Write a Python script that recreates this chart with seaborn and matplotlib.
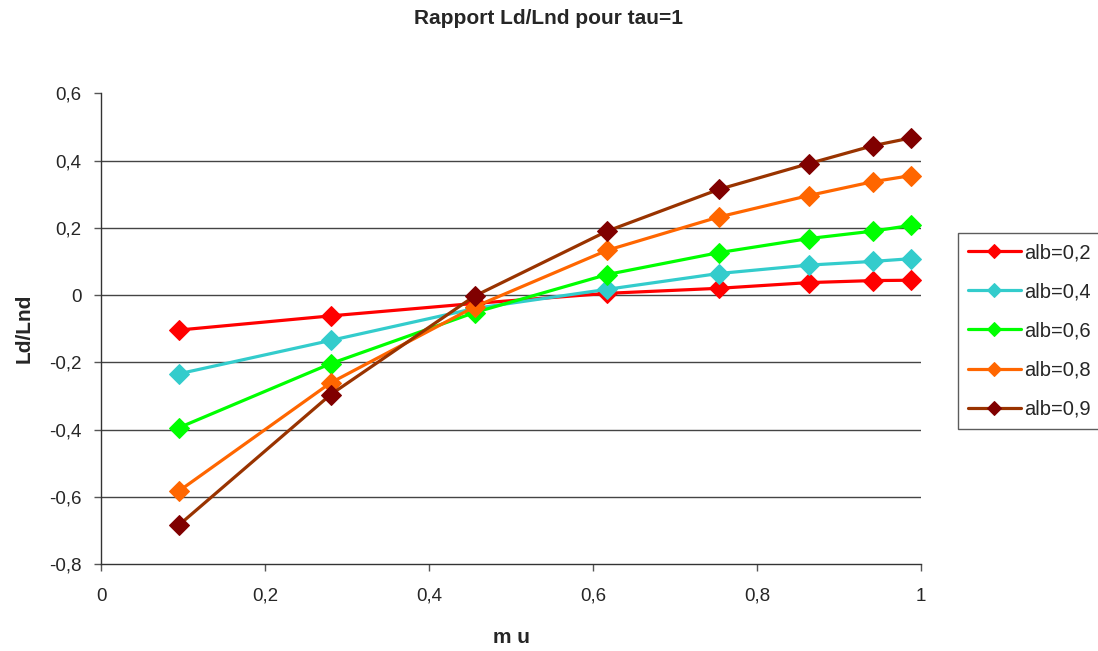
import numpy as np
import pandas as pd
import seaborn as sns
import matplotlib.pyplot as plt
from matplotlib.ticker import FuncFormatter

# data
mu = [0.0955, 0.28, 0.4555, 0.617, 0.753, 0.863, 0.941, 0.987]
labels = ["alb=0,2", "alb=0,4", "alb=0,6", "alb=0,8", "alb=0,9"]
alb_02 = [-0.104, -0.062, -0.025, 0.005, 0.020, 0.037, 0.043, 0.044]
alb_04 = [-0.234, -0.135, -0.040, 0.017, 0.064, 0.089, 0.100, 0.108]
alb_06 = [-0.394, -0.204, -0.052, 0.061, 0.126, 0.168, 0.190, 0.207]
alb_08 = [-0.582, -0.261, -0.035, 0.133, 0.232, 0.296, 0.337, 0.355]
alb_09 = [-0.683, -0.296, -0.003, 0.190, 0.314, 0.391, 0.444, 0.467]

line_colors = ["#FF0000", "#33CCCC", "#00FF00", "#FF6600", "#993300"]
marker_colors = ["#FF0000", "#33CCCC", "#00FF00", "#FF6600", "#800000"]

df = pd.DataFrame({
    "mu": mu * 5,
    "val": alb_02 + alb_04 + alb_06 + alb_08 + alb_09,
    "serie": [l for l in labels for _ in mu],
})

sns.set_style("white")
plt.rcParams['font.family'] = ['Liberation Sans', 'DejaVu Sans']

fig = plt.figure(figsize=(10.98, 6.51), dpi=100)
ax = fig.add_axes([0.092, 0.1336, 0.747, 0.7231])

for lab, lc, mc in zip(labels, line_colors, marker_colors):
    sns.lineplot(data=df[df.serie == lab], x="mu", y="val", ax=ax, color=lc,
                 linewidth=2.3, marker="D", markersize=10,
                 markerfacecolor=mc, markeredgecolor=mc, label=lab)


def comma(v, p):
    v = round(v, 1)
    if v == 0:
        return "0"
    return ("%g" % v).replace(".", ",")


ax.set_xlim(0, 1)
ax.set_ylim(-0.8, 0.6)
ax.set_xticks(np.arange(0, 1.01, 0.2))
ax.set_yticks(np.arange(-0.8, 0.61, 0.2))
ax.xaxis.set_major_formatter(FuncFormatter(comma))
ax.yaxis.set_major_formatter(FuncFormatter(comma))
# horizontal grid lines, none on the top tick
for t in np.arange(-0.6, 0.41, 0.2):
    ax.axhline(t, color="#444444", linewidth=1, zorder=0)
ax.tick_params(axis="both", direction="out", length=5, width=1, color="#555555",
               labelsize=13.5, left=True, bottom=True)
ax.tick_params(axis="x", pad=12)
ax.tick_params(axis="y", pad=9)
for s in ["top", "right"]:
    ax.spines[s].set_visible(False)
for s in ["left", "bottom"]:
    ax.spines[s].set_color("#333333")
    ax.spines[s].set_linewidth(1)

ax.set_xlabel("m u", fontsize=15, fontweight="bold", labelpad=17)
ax.set_ylabel("Ld/Lnd", fontsize=15, fontweight="bold", labelpad=11)
fig.text(0.5, 0.972, "Rapport Ld/Lnd pour tau=1", fontsize=15, fontweight="bold",
         ha="center", va="center")

leg = ax.legend(loc="upper left", bbox_to_anchor=(1.045, 0.703), frameon=True,
                fancybox=False, edgecolor="#333333", fontsize=14.5,
                markerscale=0.7, handlelength=2.6, borderpad=0.5,
                labelspacing=1.0, handletextpad=0.2, borderaxespad=0)
leg.get_frame().set_linewidth(1)

fig.savefig("out.png", dpi=100)
